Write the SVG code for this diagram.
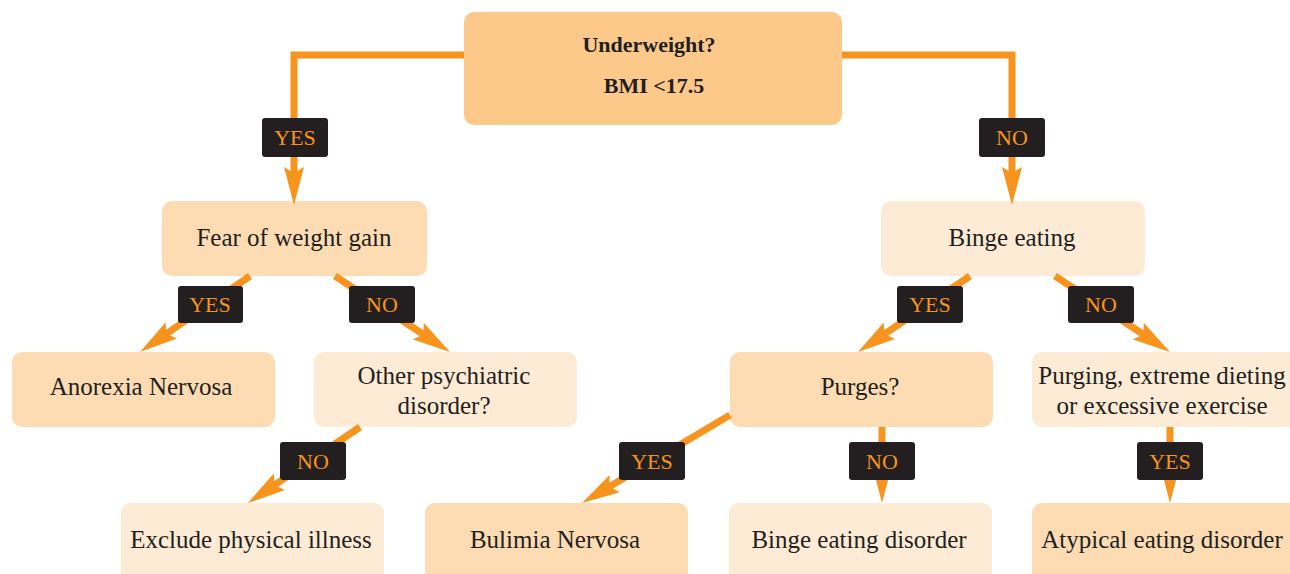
<svg xmlns="http://www.w3.org/2000/svg" width="1290" height="574" viewBox="0 0 1290 574">
<style>
.n1{fill:#FDC98A}
.n2{fill:#FDDCB4}
.n3{fill:#FDEBD6}
.t{font-family:"Liberation Serif",serif;font-size:25px;fill:#231F20;text-anchor:middle}
.tb{font-family:"Liberation Serif",serif;font-size:22px;font-weight:bold;fill:#231F20;text-anchor:middle}
.c{fill:none;stroke:#F7941D;stroke-width:7}
.lb{fill:#231F20}
.lt{font-family:"Liberation Serif",serif;font-size:22px;fill:#F7941D;text-anchor:middle}
</style>
<defs>
<marker id="ah" viewBox="0 0 38 20" refX="18" refY="10" markerWidth="38" markerHeight="20" markerUnits="userSpaceOnUse" orient="auto">
<path d="M0,0 L38,10 L0,20 L6,10 Z" fill="#F7941D"/>
</marker>
</defs>
<rect width="1290" height="574" fill="#fff"/>
<g id="n-underweight"><rect class="n1" x="464" y="12" width="378" height="113" rx="10"/><text class="tb" x="649" y="52">Underweight?</text><text class="tb" x="654" y="93">BMI &lt;17.5</text></g>
<g id="n-fear"><rect class="n2" x="162" y="201" width="265" height="75" rx="10"/><text class="t" x="294" y="246">Fear of weight gain</text></g>
<g id="n-binge"><rect class="n3" x="881" y="201" width="264" height="75" rx="10"/><text class="t" x="1012" y="246">Binge eating</text></g>
<g id="n-anorexia"><rect class="n2" x="12" y="352" width="263" height="75" rx="10"/><text class="t" x="141" y="395">Anorexia Nervosa</text></g>
<g id="n-other"><rect class="n3" x="314" y="352" width="263" height="75" rx="10"/><text class="t" x="444" y="384">Other psychiatric</text><text class="t" x="444" y="414">disorder?</text></g>
<g id="n-purges"><rect class="n2" x="730" y="352" width="263" height="75" rx="10"/><text class="t" x="860" y="395">Purges?</text></g>
<g id="n-purging"><rect class="n3" x="1032" y="352" width="270" height="75" rx="10"/><text class="t" x="1162" y="384">Purging, extreme dieting</text><text class="t" x="1162" y="414">or excessive exercise</text></g>
<g id="n-exclude"><rect class="n3" x="121" y="503" width="263" height="85" rx="10"/><text class="t" x="251" y="548">Exclude physical illness</text></g>
<g id="n-bulimia"><rect class="n2" x="425" y="503" width="263" height="85" rx="10"/><text class="t" x="555" y="548">Bulimia Nervosa</text></g>
<g id="n-bed"><rect class="n3" x="729" y="503" width="263" height="85" rx="10"/><text class="t" x="859" y="548">Binge eating disorder</text></g>
<g id="n-atypical"><rect class="n2" x="1032" y="503" width="270" height="85" rx="10"/><text class="t" x="1162" y="548">Atypical eating disorder</text></g>
<g id="connectors">
<path class="c" d="M464,55 H294 V185" marker-end="url(#ah)"/>
<path class="c" d="M842,55 H1012 V185" marker-end="url(#ah)"/>
<path class="c" d="M250,276 L156.5,340.6" marker-end="url(#ah)"/>
<path class="c" d="M335,276 L433.3,341" marker-end="url(#ah)"/>
<path class="c" d="M970,276 L874.5,340.8" marker-end="url(#ah)"/>
<path class="c" d="M1055,276 L1153.3,341" marker-end="url(#ah)"/>
<path class="c" d="M360,427 L264.5,491.8" marker-end="url(#ah)"/>
<path class="c" d="M730,415 L599.2,492.8" marker-end="url(#ah)"/>
<path class="c" d="M882,427 V483" marker-end="url(#ah)"/>
<path class="c" d="M1170,427 V483" marker-end="url(#ah)"/>
<rect class="lb" x="262" y="118" width="66" height="39" rx="3"/><text class="lt" x="295" y="145">YES</text>
<rect class="lb" x="979" y="118" width="66" height="39" rx="3"/><text class="lt" x="1012" y="145">NO</text>
<rect class="lb" x="178" y="286" width="65" height="37" rx="3"/><text class="lt" x="210" y="312">YES</text>
<rect class="lb" x="349" y="286" width="66" height="37" rx="3"/><text class="lt" x="382" y="312">NO</text>
<rect class="lb" x="897" y="286" width="66" height="37" rx="3"/><text class="lt" x="930" y="312">YES</text>
<rect class="lb" x="1068" y="286" width="66" height="37" rx="3"/><text class="lt" x="1101" y="312">NO</text>
<rect class="lb" x="280" y="442" width="66" height="38" rx="3"/><text class="lt" x="313" y="469">NO</text>
<rect class="lb" x="619" y="442" width="66" height="38" rx="3"/><text class="lt" x="652" y="469">YES</text>
<rect class="lb" x="849" y="442" width="66" height="38" rx="3"/><text class="lt" x="882" y="469">NO</text>
<rect class="lb" x="1137" y="442" width="66" height="38" rx="3"/><text class="lt" x="1170" y="469">YES</text>
</g>
</svg>
